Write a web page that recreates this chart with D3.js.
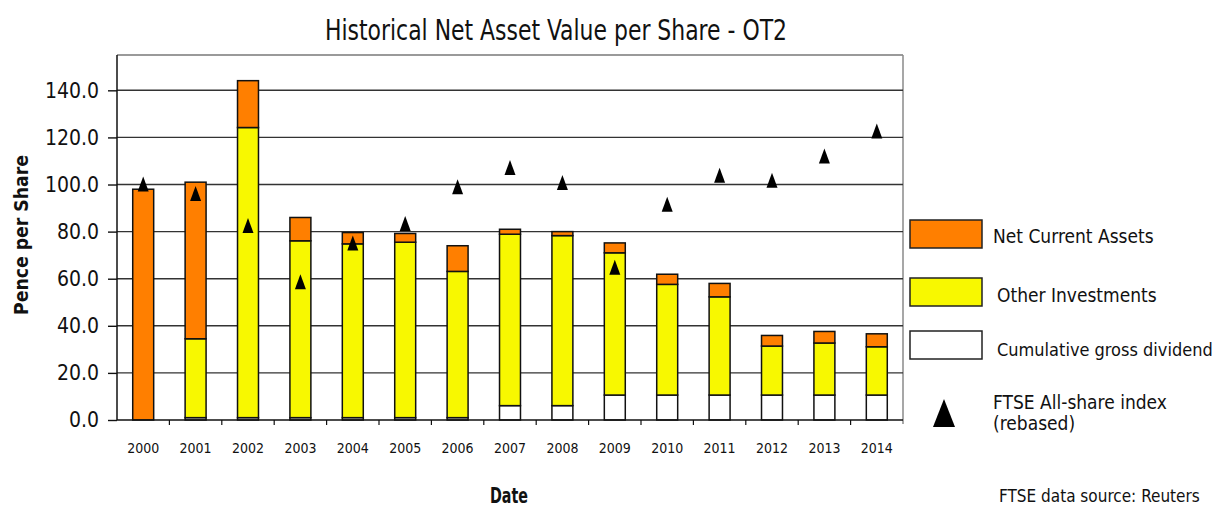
<!DOCTYPE html>
<html>
<head>
<meta charset="utf-8">
<script src="https://cdn.jsdelivr.net/npm/d3@7"></script>
<style>
  body { margin: 0; background: #fff; }
  text { font-family: "DejaVu Sans", sans-serif; font-stretch: condensed; fill: #111; }
</style>
</head>
<body>
<svg id="chart"></svg>
<script>
var width = 1214, height = 508;
var margin = {top: 55, right: 311, bottom: 88, left: 117};

// data (pence per share)
var years = ["2000","2001","2002","2003","2004","2005","2006","2007","2008","2009","2010","2011","2012","2013","2014"];
var dividend   = [0, 1, 1, 1, 1, 1, 1, 6.1, 6.1, 10.6, 10.6, 10.6, 10.6, 10.6, 10.6];
var otherInv   = [0, 33.5, 123.2, 75.1, 73.8, 74.5, 62.1, 72.8, 72.2, 60.4, 47, 41.7, 20.8, 22.1, 20.5];
var netCurrent = [98, 66.5, 19.9, 9.9, 4.8, 3.7, 10.9, 2.1, 1.7, 4.2, 4.3, 5.7, 4.5, 4.9, 5.5];
var ftse       = [100, 96, 82.4, 58.5, 75, 83.2, 98.8, 107, 100.6, 64.7, 91.4, 103.7, 101.6, 111.9, 122.5];
var yTicks = [0, 20, 40, 60, 80, 100, 120, 140];

var seriesKeys = ["dividend", "other", "net"];
var colors = {dividend: "#FFFFFF", other: "#F8F800", net: "#FF7F00"};
var legendItems = [
  {key: "net", label: "Net Current Assets", y: 220, size: 19},
  {key: "other", label: "Other Investments", y: 278, size: 19},
  {key: "dividend", label: "Cumulative gross dividend", y: 331, size: 18}
];

var rows = years.map(function (y, i) {
  return {year: y, dividend: dividend[i], other: otherInv[i], net: netCurrent[i], ftse: ftse[i]};
});

// the original font is narrow, squeeze some text to the widths seen in the picture
function fit(sel, w) {
  return sel.attr("textLength", w).attr("lengthAdjust", "spacingAndGlyphs");
}

var svg = d3.select("#chart").attr("width", width).attr("height", height);
var x0 = margin.left, x1 = width - margin.right;
var y0 = margin.top, y1 = height - margin.bottom;

var x = d3.scaleBand().domain(years).range([x0, x1]).paddingInner(0.6).paddingOuter(0.3);
var xb = d3.scaleBand().domain(years).range([x0, x1]).padding(0);
var y = d3.scaleLinear().domain([0, 155]).range([y1, y0]);

// title
fit(svg.append("text")
  .attr("x", 325).attr("y", 40)
  .style("font-size", "28px")
  .text("Historical Net Asset Value per Share - OT2"), 462);

// plot frame (top + right, grey)
svg.append("line").attr("x1", x0).attr("x2", x1).attr("y1", y0).attr("y2", y0)
  .attr("stroke", "#9a9a9a").attr("stroke-width", 2);
svg.append("line").attr("x1", x1).attr("x2", x1).attr("y1", y0).attr("y2", y1 + 4)
  .attr("stroke", "#8a8a8a").attr("stroke-width", 1.5);

// gridlines
svg.append("g").selectAll("line")
  .data(yTicks.filter(function (d) { return d > 0; }))
  .join("line")
  .attr("x1", x0).attr("x2", x1)
  .attr("y1", function (d) { return y(d); }).attr("y2", function (d) { return y(d); })
  .attr("stroke", "#333").attr("stroke-width", 1.4);

// stacked bars
var stacked = d3.stack().keys(seriesKeys)(rows);
svg.append("g").selectAll("g")
  .data(stacked)
  .join("g")
  .attr("fill", function (d) { return colors[d.key]; })
  .selectAll("rect")
  .data(function (d) { return d.filter(function (p) { return p[1] - p[0] > 0; }); })
  .join("rect")
  .attr("x", function (d) { return x(d.data.year); })
  .attr("width", x.bandwidth())
  .attr("y", function (d) { return y(d[1]); })
  .attr("height", function (d) { return y(d[0]) - y(d[1]); })
  .attr("stroke", "#111").attr("stroke-width", 1.5);

// y axis
var yAxis = svg.append("g")
  .attr("transform", "translate(" + x0 + ",0)")
  .call(d3.axisLeft(y).tickValues(yTicks).tickFormat(d3.format(".1f")).tickSize(9).tickPadding(9));
yAxis.select(".domain").attr("stroke", "#111").attr("stroke-width", 1.5).attr("d", "M0," + y0 + "V" + y1);
yAxis.selectAll(".tick line").attr("stroke", "#111").attr("stroke-width", 1.4);
yAxis.selectAll("text").style("font-size", "21px").attr("fill", "#111");

// x axis line and boundary ticks
svg.append("line").attr("x1", x0).attr("x2", x1).attr("y1", y1).attr("y2", y1)
  .attr("stroke", "#111").attr("stroke-width", 1.5);
svg.append("g").selectAll("line")
  .data(years.slice(1))
  .join("line")
  .attr("x1", function (d) { return xb(d); }).attr("x2", function (d) { return xb(d); })
  .attr("y1", y1).attr("y2", y1 + 5)
  .attr("stroke", "#111").attr("stroke-width", 1.2);

svg.append("g").selectAll("text")
  .data(years)
  .join("text")
  .attr("x", function (d) { return x(d) + x.bandwidth() / 2; })
  .attr("y", 453)
  .attr("text-anchor", "middle")
  .style("font-size", "14px")
  .text(function (d) { return d; });

// FTSE markers
var tri = "M0,-8L5.5,7L-5.5,7Z";
svg.append("g").selectAll("path")
  .data(rows)
  .join("path")
  .attr("transform", function (d) { return "translate(" + (x(d.year) + x.bandwidth() / 2) + "," + y(d.ftse) + ")"; })
  .attr("d", tri)
  .attr("fill", "#000");

// axis titles
fit(svg.append("text")
  .attr("transform", "translate(28,235) rotate(-90)")
  .attr("x", -80)
  .style("font-size", "19px").style("font-weight", "bold")
  .text("Pence per Share"), 160);
fit(svg.append("text")
  .attr("x", 490).attr("y", 503)
  .style("font-size", "21px").style("font-weight", "bold")
  .text("Date"), 38);

// legend
var legend = svg.append("g");
legendItems.forEach(function (item, i) {
  legend.append("rect")
    .attr("x", 910).attr("y", item.y).attr("width", 72).attr("height", 28)
    .attr("fill", colors[item.key]).attr("stroke", "#222").attr("stroke-width", 1.5);
  legend.append("text")
    .attr("x", i === 0 ? 993 : 997).attr("y", item.y + 23 + i)
    .style("font-size", item.size + "px")
    .text(item.label);
});
legend.append("path")
  .attr("transform", "translate(944,413)")
  .attr("d", "M0,-14L11,14L-11,14Z")
  .attr("fill", "#000");
legend.append("text").attr("x", 993).attr("y", 409).style("font-size", "19px").text("FTSE All-share index");
legend.append("text").attr("x", 993).attr("y", 430).style("font-size", "19px").text("(rebased)");

svg.append("text")
  .attr("x", 999).attr("y", 502)
  .style("font-size", "17px")
  .text("FTSE data source: Reuters");
</script>
</body>
</html>
